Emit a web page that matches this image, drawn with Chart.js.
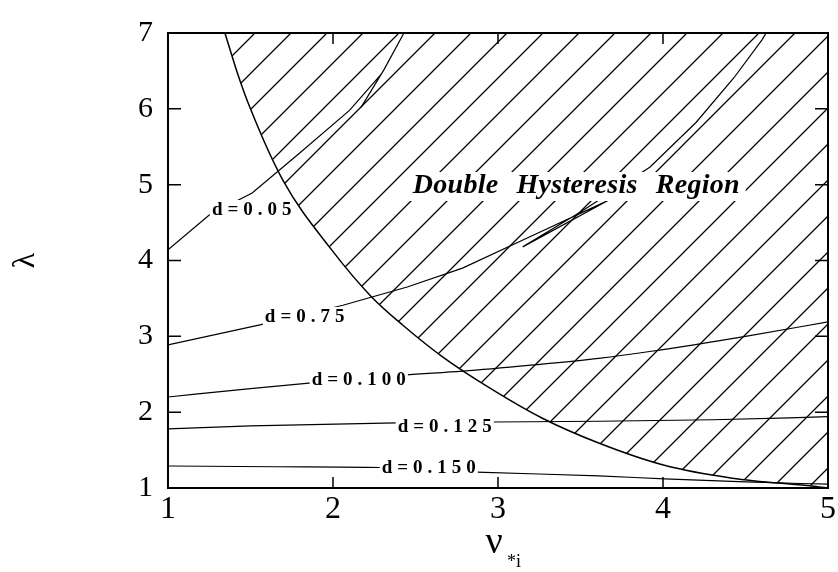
<!DOCTYPE html>
<html>
<head>
<meta charset="utf-8">
<script src="https://cdn.jsdelivr.net/npm/chart.js@4/dist/chart.umd.min.js"></script>
<style>
  html, body { margin: 0; padding: 0; background: #fff; }
</style>
</head>
<body>
<canvas id="chart" width="838" height="572"></canvas>
<script>
// boundary of the hatched (double hysteresis) region
const boundaryX = [1.345, 1.418, 1.496, 1.696, 1.992, 2.234, 2.422, 2.664, 2.949, 3.269, 3.614, 4.008, 4.419, 4.927, 5.0];
const boundaryY = [7.0, 6.49, 6.02, 5.06, 4.14, 3.52, 3.15, 2.73, 2.32, 1.92, 1.59, 1.30, 1.13, 1.02, 1.0];

// lambda vs nu curves for each d
const d005X = [1.0, 1.25, 1.51, 1.8, 2.1, 2.29, 2.17, 2.31, 2.43];
const d005Y = [4.14, 4.60, 4.89, 5.42, 5.98, 6.45, 6.02, 6.52, 7.0];
const d075X = [1.0, 1.557, 2.06, 2.45, 2.785, 3.2, 3.675, 3.15, 3.5, 3.92, 4.2, 4.43, 4.60, 4.625];
const d075Y = [2.886, 3.15, 3.41, 3.65, 3.90, 4.32, 4.80, 4.18, 4.64, 5.23, 5.82, 6.41, 6.91, 7.0];
const d100X = [1.0, 1.5, 1.87, 2.434, 2.785, 3.2, 3.61, 3.92, 4.5, 5.0];
const d100Y = [2.20, 2.31, 2.385, 2.49, 2.54, 2.62, 2.71, 2.80, 3.0, 3.19];
const d125X = [1.0, 1.5, 2.386, 2.967, 3.61, 4.3, 5.0];
const d125Y = [1.78, 1.82, 1.86, 1.87, 1.88, 1.90, 1.94];
const d150X = [1.0, 1.65, 2.29, 2.87, 3.61, 4.01, 4.5, 5.0];
const d150Y = [1.29, 1.28, 1.27, 1.21, 1.16, 1.12, 1.08, 1.05];

// inline curve labels (left edge x, baseline y, in data units)
const curveLabels = ['d=0.05', 'd=0.75', 'd=0.100', 'd=0.125', 'd=0.150'];
const curveLabelX = [1.266, 1.587, 1.871, 2.392, 2.295];
const curveLabelY = [4.60, 3.19, 2.36, 1.74, 1.20];
const regionLabel = 'Double Hysteresis Region';
const regionLabelX = 2.483;
const regionLabelY = 4.89;

const xTicks = [1, 2, 3, 4, 5];
const yTicks = [1, 2, 3, 4, 5, 6, 7];

const serif = "'Liberation Serif', 'DejaVu Serif', serif";

function pts(xs, ys) {
  return xs.map((v, i) => ({ x: v, y: ys[i] }));
}

function hatchPattern() {
  const s = 36;
  const c = document.createElement('canvas');
  c.width = s; c.height = s;
  const g = c.getContext('2d');
  g.strokeStyle = '#000';
  g.lineWidth = 1.3;
  g.beginPath();
  g.moveTo(-2, s + 2); g.lineTo(s + 2, -2);
  g.moveTo(-2, 2); g.lineTo(2, -2);
  g.moveTo(s - 2, s + 2); g.lineTo(s + 2, s - 2);
  g.stroke();
  return g.createPattern(c, 'repeat');
}

// text drawn letter by letter so the wide spacing of the figure can be kept
function spacedText(ctx, text, x, y, gap, wordGap, draw) {
  let cx = x;
  for (const ch of text) {
    if (ch === ' ') { cx += wordGap; continue; }
    if (draw) ctx.fillText(ch, cx, y);
    cx += ctx.measureText(ch).width + gap;
  }
  return cx - gap - x;
}

function line(data, opts) {
  return Object.assign({
    data: data,
    showLine: true,
    borderColor: '#000',
    borderWidth: 1.2,
    pointRadius: 0,
    fill: false,
    tension: 0
  }, opts || {});
}

const decor = {
  id: 'decor',
  afterDatasetsDraw(chart) {
    const { ctx, chartArea: a, scales: { x, y } } = chart;
    ctx.save();
    ctx.textBaseline = 'alphabetic';
    ctx.textAlign = 'left';

    // curve labels with white background
    ctx.font = 'bold 19px ' + serif;
    curveLabels.forEach((t, i) => {
      const lx = x.getPixelForValue(curveLabelX[i]);
      const ly = y.getPixelForValue(curveLabelY[i]);
      const w = spacedText(ctx, t, lx, ly, 5, 5, false);
      ctx.fillStyle = '#fff';
      ctx.fillRect(lx - 2, ly - 15, w + 4, 19);
      ctx.fillStyle = '#000';
      spacedText(ctx, t, lx, ly, 5, 5, true);
    });

    // region label
    ctx.font = 'italic bold 28px ' + serif;
    const rx = x.getPixelForValue(regionLabelX);
    const ry = y.getPixelForValue(regionLabelY);
    const rw = spacedText(ctx, regionLabel, rx, ry, 0.3, 18, false);
    ctx.fillStyle = '#fff';
    ctx.fillRect(rx - 4, ry - 21, rw + 10, 29);
    ctx.fillStyle = '#000';
    spacedText(ctx, regionLabel, rx, ry, 0.3, 18, true);

    // frame
    ctx.strokeStyle = '#000';
    ctx.lineWidth = 2;
    ctx.strokeRect(a.left, a.top, a.right - a.left, a.bottom - a.top);

    // inward tick marks on all four sides
    ctx.lineWidth = 1.5;
    ctx.beginPath();
    xTicks.slice(1, -1).forEach(v => {
      const px = x.getPixelForValue(v);
      ctx.moveTo(px, a.bottom); ctx.lineTo(px, a.bottom - 11);
      ctx.moveTo(px, a.top); ctx.lineTo(px, a.top + 11);
    });
    yTicks.slice(1, -1).forEach(v => {
      const py = y.getPixelForValue(v);
      ctx.moveTo(a.left, py); ctx.lineTo(a.left + 13, py);
      ctx.moveTo(a.right, py); ctx.lineTo(a.right - 13, py);
    });
    ctx.stroke();

    // x axis title: nu with subscript *i
    const cx = (a.left + a.right) / 2;
    ctx.textAlign = 'center';
    ctx.font = '38px ' + serif;
    ctx.fillText('ν', cx - 4, 553);
    ctx.textAlign = 'left';
    ctx.font = '18px ' + serif;
    ctx.fillText('*i', cx + 9, 567);
    ctx.restore();
  }
};

new Chart(document.getElementById('chart'), {
  type: 'scatter',
  data: {
    datasets: [
      line(pts(boundaryX, boundaryY), {
        borderWidth: 1.5,
        fill: 'end',
        backgroundColor: hatchPattern(),
        cubicInterpolationMode: 'monotone'
      }),
      line(pts(d005X, d005Y)),
      line(pts(d075X, d075Y)),
      line(pts(d100X, d100Y), { cubicInterpolationMode: 'monotone' }),
      line(pts(d125X, d125Y), { cubicInterpolationMode: 'monotone' }),
      line(pts(d150X, d150Y), { cubicInterpolationMode: 'monotone' })
    ]
  },
  options: {
    responsive: false,
    animation: false,
    layout: { padding: { top: 33, right: 9, left: 0, bottom: 0 } },
    plugins: { legend: { display: false }, tooltip: { enabled: false } },
    scales: {
      x: {
        type: 'linear',
        min: 1,
        max: 5,
        afterBuildTicks: s => { s.ticks = xTicks.map(v => ({ value: v })); },
        ticks: { color: '#000', font: { family: serif, size: 32 }, padding: 2, maxRotation: 0 },
        grid: { display: false, drawTicks: false },
        border: { display: false },
        afterFit: s => { s.height = 84; }
      },
      y: {
        type: 'linear',
        min: 1,
        max: 7,
        afterBuildTicks: s => { s.ticks = yTicks.map(v => ({ value: v })); },
        ticks: { color: '#000', font: { family: serif, size: 30 }, padding: 15 },
        grid: { display: false, drawTicks: false },
        border: { display: false },
        title: { display: true, text: 'λ', color: '#000', font: { family: serif, size: 32 }, padding: { top: 6, bottom: 0 } },
        afterFit: s => { s.width = 168; }
      }
    }
  },
  plugins: [decor]
});
</script>
</body>
</html>
